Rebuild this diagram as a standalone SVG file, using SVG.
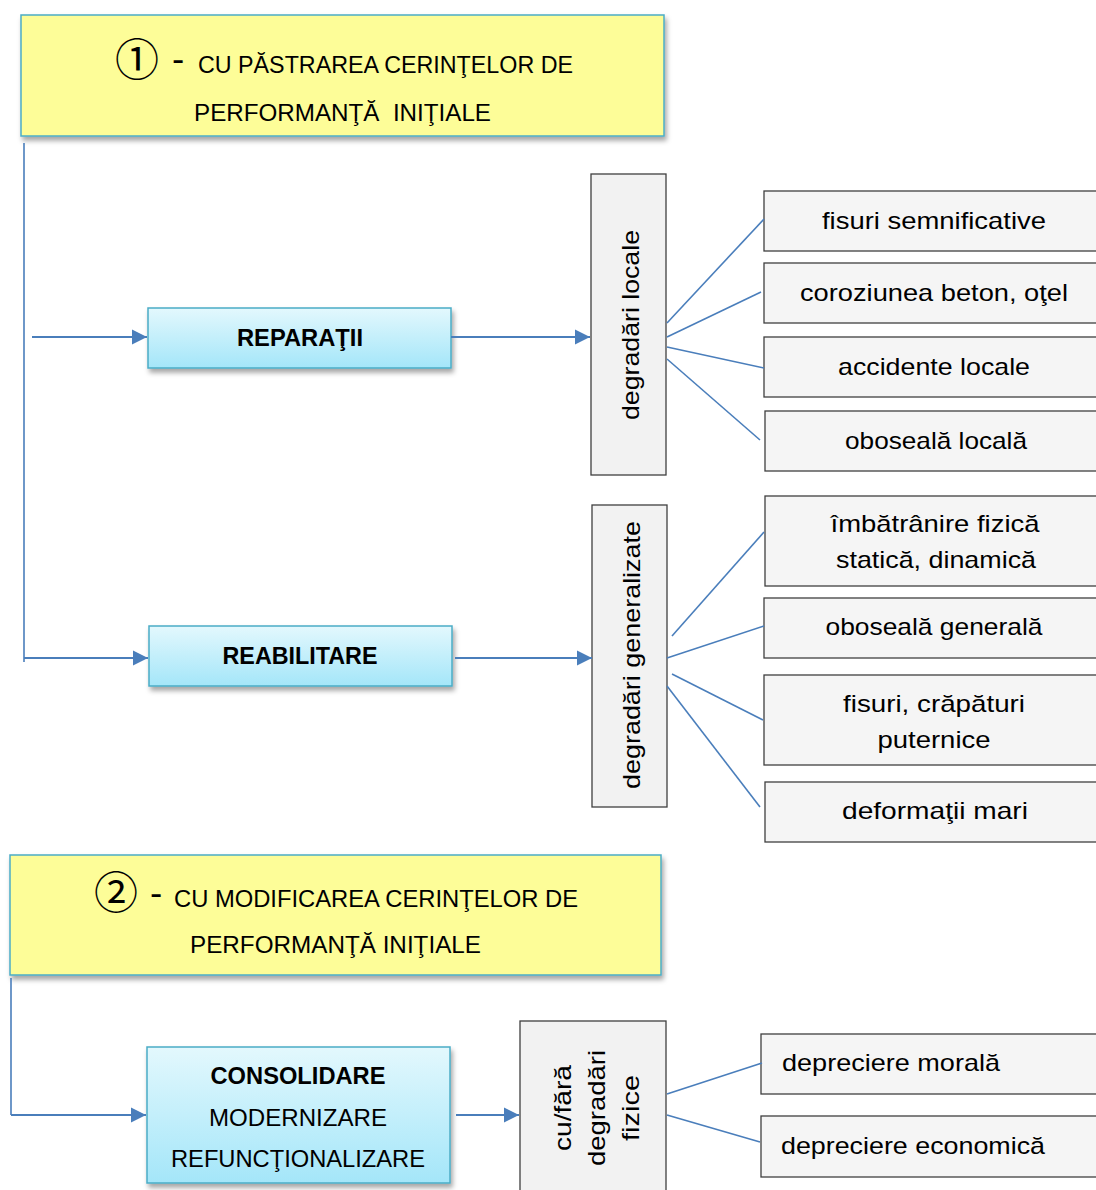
<svg xmlns="http://www.w3.org/2000/svg" width="1096" height="1190" viewBox="0 0 1096 1190">
<defs>
<linearGradient id="gBlue" x1="0" y1="0" x2="0" y2="1">
<stop offset="0" stop-color="#e3f8fd"/>
<stop offset="1" stop-color="#a4e6f9"/>
</linearGradient>
<filter id="sh" x="-10%" y="-20%" width="130%" height="160%">
<feDropShadow dx="2" dy="4" stdDeviation="2.5" flood-color="#000" flood-opacity="0.35"/>
</filter>
<marker id="arr" viewBox="0 0 10 10" refX="10" refY="5" markerWidth="7" markerHeight="7" markerUnits="strokeWidth" orient="auto">
<path d="M0,0 L10,5 L0,10 z" fill="#4a7ebb"/>
</marker>
<style>
.yel{fill:#fdfd98;stroke:#4bacc6;stroke-width:1.5;filter:url(#sh)}
.blu{fill:url(#gBlue);stroke:#4bacc6;stroke-width:1.5;filter:url(#sh)}
.gry{fill:#f2f2f2;stroke:#3f3f3f;stroke-width:1.3}
.lt{fill:#f5f5f5;stroke:#3f3f3f;stroke-width:1.3}
.t{font-family:"Liberation Sans","DejaVu Sans",sans-serif;fill:#000}
.hd{font-size:24px}
.c{text-anchor:middle}
.b{font-weight:bold}
.m{font-size:24px}
.circ{font-family:"Noto Sans CJK JP","DejaVu Sans",sans-serif;font-size:44px;fill:#000;text-anchor:middle}
.dash{font-family:"DejaVu Sans",sans-serif;font-size:34px;fill:#000}
.ar{stroke:#4a7ebb;stroke-width:2.2;fill:none;marker-end:url(#arr)}
.ln{stroke:#4a7ebb;stroke-width:1.6;fill:none}
</style>
</defs>

<g id="header1">
<rect class="yel" x="21" y="15" width="643" height="121"/>
<text class="circ" x="137" y="76">①</text>
<text class="dash" x="172" y="71">-</text>
<text class="t hd" x="198" y="73" textLength="375" lengthAdjust="spacingAndGlyphs">CU PĂSTRAREA CERINŢELOR DE</text>
<text class="t hd" x="194" y="121" textLength="297" lengthAdjust="spacingAndGlyphs">PERFORMANŢĂ &#160;INIŢIALE</text>
</g>

<g id="reparatii">
<rect class="blu" x="148" y="308" width="303" height="60"/>
<text class="t b c" x="300" y="346" font-size="23" textLength="126" lengthAdjust="spacingAndGlyphs">REPARAŢII</text>
</g>

<g id="reabilitare">
<rect class="blu" x="149" y="626" width="303" height="60"/>
<text class="t b c" x="300" y="664" font-size="23" textLength="155" lengthAdjust="spacingAndGlyphs">REABILITARE</text>
</g>

<g id="degradari-locale">
<rect class="gry" x="591" y="174" width="75" height="301"/>
<text class="t m c" transform="translate(639,325) rotate(-90)" textLength="190" lengthAdjust="spacingAndGlyphs">degradări locale</text>
</g>

<g id="degradari-generalizate">
<rect class="gry" x="592" y="505" width="75" height="302"/>
<text class="t m c" transform="translate(640,655) rotate(-90)" textLength="268" lengthAdjust="spacingAndGlyphs">degradări generalizate</text>
</g>

<g id="fisuri-semnificative">
<rect class="lt" x="764" y="191" width="345" height="60"/>
<text class="t m c" x="934" y="229" textLength="224" lengthAdjust="spacingAndGlyphs">fisuri semnificative</text>
</g>
<g id="coroziunea">
<rect class="lt" x="764" y="263" width="345" height="60"/>
<text class="t m c" x="934" y="301" textLength="268" lengthAdjust="spacingAndGlyphs">coroziunea beton, oţel</text>
</g>
<g id="accidente-locale">
<rect class="lt" x="764" y="337" width="345" height="60"/>
<text class="t m c" x="934" y="375" textLength="192" lengthAdjust="spacingAndGlyphs">accidente locale</text>
</g>
<g id="oboseala-locala">
<rect class="lt" x="765" y="411" width="345" height="60"/>
<text class="t m c" x="936" y="449" textLength="182" lengthAdjust="spacingAndGlyphs">oboseală locală</text>
</g>

<g id="imbatranire">
<rect class="lt" x="765" y="496" width="345" height="90"/>
<text class="t m c" x="935" y="532" textLength="209" lengthAdjust="spacingAndGlyphs">îmbătrânire fizică</text>
<text class="t m c" x="936" y="568" textLength="200" lengthAdjust="spacingAndGlyphs">statică, dinamică</text>
</g>
<g id="oboseala-generala">
<rect class="lt" x="764" y="598" width="345" height="60"/>
<text class="t m c" x="934" y="635" textLength="217" lengthAdjust="spacingAndGlyphs">oboseală generală</text>
</g>
<g id="fisuri-crapaturi">
<rect class="lt" x="764" y="675" width="345" height="90"/>
<text class="t m c" x="934" y="712" textLength="182" lengthAdjust="spacingAndGlyphs">fisuri, crăpături</text>
<text class="t m c" x="934" y="748" textLength="113" lengthAdjust="spacingAndGlyphs">puternice</text>
</g>
<g id="deformatii-mari">
<rect class="lt" x="765" y="782" width="345" height="60"/>
<text class="t m c" x="935" y="819" textLength="186" lengthAdjust="spacingAndGlyphs">deformaţii mari</text>
</g>

<g id="header2">
<rect class="yel" x="10" y="855" width="651" height="120"/>
<text class="circ" x="116" y="909">②</text>
<text class="dash" x="150" y="905">-</text>
<text class="t hd" x="174" y="907" textLength="404" lengthAdjust="spacingAndGlyphs">CU MODIFICAREA CERINŢELOR DE</text>
<text class="t hd" x="190" y="953" textLength="291" lengthAdjust="spacingAndGlyphs">PERFORMANŢĂ INIŢIALE</text>
</g>

<g id="consolidare">
<rect class="blu" x="147" y="1047" width="303" height="136"/>
<text class="t b c" x="298" y="1084" font-size="23" textLength="175" lengthAdjust="spacingAndGlyphs">CONSOLIDARE</text>
<text class="t c" x="298" y="1126" font-size="23" textLength="178" lengthAdjust="spacingAndGlyphs">MODERNIZARE</text>
<text class="t c" x="298" y="1167" font-size="23" textLength="254" lengthAdjust="spacingAndGlyphs">REFUNCŢIONALIZARE</text>
</g>

<g id="cu-fara">
<rect class="gry" x="520" y="1021" width="146" height="190"/>
<text class="t m c" transform="translate(571,1108) rotate(-90)" textLength="86" lengthAdjust="spacingAndGlyphs">cu/fără</text>
<text class="t m c" transform="translate(605,1108) rotate(-90)" textLength="116" lengthAdjust="spacingAndGlyphs">degradări</text>
<text class="t m c" transform="translate(639,1108) rotate(-90)" textLength="66" lengthAdjust="spacingAndGlyphs">fizice</text>
</g>

<g id="depreciere-morala">
<rect class="lt" x="761" y="1034" width="345" height="60"/>
<text class="t m" x="782" y="1071" textLength="218" lengthAdjust="spacingAndGlyphs">depreciere morală</text>
</g>
<g id="depreciere-economica">
<rect class="lt" x="761" y="1116" width="345" height="61"/>
<text class="t m" x="781" y="1154" textLength="264" lengthAdjust="spacingAndGlyphs">depreciere economică</text>
</g>

<g id="connectors">
<path class="ln" d="M24,143 V662"/>
<path class="ar" d="M32,337 H147"/>
<path class="ar" d="M24,658 H148"/>
<path class="ar" d="M451,337 H590"/>
<path class="ar" d="M455,658 H592"/>
<path class="ln" d="M667,323 L764,219"/>
<path class="ln" d="M667,337 L761,292"/>
<path class="ln" d="M667,347 L764,368"/>
<path class="ln" d="M667,359 L760,440"/>
<path class="ln" d="M672,636 L764,532"/>
<path class="ln" d="M667,658 L764,626"/>
<path class="ln" d="M672,674 L763,720"/>
<path class="ln" d="M667,686 L760,807"/>
<path class="ln" d="M11,978 V1115"/>
<path class="ar" d="M11,1115 H146"/>
<path class="ar" d="M456,1115 H519" stroke-width="3"/>
<path class="ln" d="M667,1094 L762,1063"/>
<path class="ln" d="M667,1115 L760,1142"/>
</g>
</svg>
